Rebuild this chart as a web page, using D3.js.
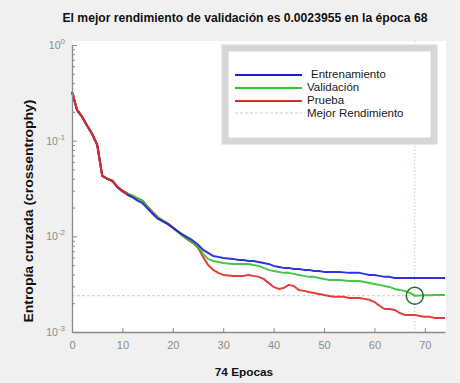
<!DOCTYPE html>
<html>
<head>
<meta charset="utf-8">
<script src="https://cdn.jsdelivr.net/npm/d3@7"></script>
<style>
  html, body { margin: 0; padding: 0; background: #f0f0f0; }
  svg { display: block; font-family: "Liberation Sans", Arial, sans-serif; }
</style>
</head>
<body>
<svg id="chart" width="460" height="383"></svg>
<script>
// Cross-entropy performance per epoch (epochs 0..74)
const epochs = d3.range(0, 75);

const training = [
  0.323, 0.209, 0.177, 0.143, 0.117, 0.0902, 0.0428, 0.0398, 0.0379, 0.0325,
  0.0295, 0.0272, 0.0256, 0.0236, 0.0222, 0.0195, 0.0172, 0.0153, 0.0143, 0.0134,
  0.0123, 0.0113, 0.0104, 0.0097, 0.0090, 0.0082, 0.00721, 0.00671, 0.00624, 0.00610,
  0.00595, 0.00588, 0.00581, 0.00567, 0.00567, 0.00553, 0.00553, 0.00540, 0.00527, 0.00515,
  0.00491, 0.00479, 0.00468, 0.00468, 0.00456, 0.00456, 0.00446, 0.00446, 0.00435, 0.00435,
  0.00425, 0.00425, 0.00425, 0.00425, 0.00420, 0.00415, 0.00415, 0.00415, 0.00405, 0.00395,
  0.00395, 0.00386, 0.00377, 0.00377, 0.00367, 0.00367, 0.00367, 0.00367, 0.00367, 0.00367,
  0.00367, 0.00367, 0.00367, 0.00367, 0.00367
];

const validation = [
  0.323, 0.209, 0.177, 0.143, 0.117, 0.0902, 0.0428, 0.0398, 0.0379, 0.0328,
  0.0300, 0.0280, 0.0266, 0.0250, 0.0236, 0.0203, 0.0177, 0.0157, 0.0146, 0.0136,
  0.0122, 0.0111, 0.0101, 0.0093, 0.0086, 0.0078, 0.00655, 0.00581, 0.00553, 0.00540,
  0.00527, 0.00521, 0.00515, 0.00515, 0.00515, 0.00515, 0.00502, 0.00491, 0.00468, 0.00446,
  0.00435, 0.00425, 0.00415, 0.00415, 0.00405, 0.00395, 0.00386, 0.00377, 0.00377, 0.00367,
  0.00359, 0.00350, 0.00350, 0.00350, 0.00346, 0.00342, 0.00342, 0.00342, 0.00334, 0.00326,
  0.00318, 0.00311, 0.00303, 0.00296, 0.00282, 0.00275, 0.00269, 0.00256, 0.0023955, 0.00241,
  0.00242, 0.00242, 0.00243, 0.00243, 0.00244
];

const test = [
  0.325, 0.210, 0.178, 0.144, 0.118, 0.0905, 0.0430, 0.0400, 0.0381, 0.0330,
  0.0300, 0.0279, 0.0265, 0.0248, 0.0236, 0.0206, 0.0180, 0.0159, 0.0147, 0.0137,
  0.0124, 0.0112, 0.0101, 0.0092, 0.0085, 0.0076, 0.00610, 0.00502, 0.00446, 0.00415,
  0.00395, 0.00390, 0.00386, 0.00386, 0.00386, 0.00395, 0.00386, 0.00377, 0.00359, 0.00326,
  0.00296, 0.00282, 0.00289, 0.00311, 0.00303, 0.00275, 0.00269, 0.00262, 0.00256, 0.00250,
  0.00244, 0.00238, 0.00233, 0.00233, 0.00233, 0.00227, 0.00227, 0.00227, 0.00222, 0.00217,
  0.00206, 0.00188, 0.00174, 0.00174, 0.00170, 0.00158, 0.00151, 0.00151, 0.00151, 0.00147,
  0.00144, 0.00144, 0.00140, 0.00140, 0.00140
];

const seriesNames = ["Entrenamiento", "Validación", "Prueba"];
const seriesColors = ["#1c1cd6", "#2fc42f", "#e02828"];
const bestEpoch = 68;
const bestValue = 0.0023955;
const xTicks = [0, 10, 20, 30, 40, 50, 60, 70];
const yDecades = [-3, -2, -1, 0];

const titleText = "El mejor rendimiento de validación es " + bestValue + " en la época " + bestEpoch;
const xLabel = "74 Epocas";
const yLabel = "Entropía cruzada (crossentrophy)";
const bestLabel = "Mejor Rendimiento";

const svg = d3.select("#chart");
const W = 460, H = 383;
const plot = { left: 72, right: 445, top: 45, bottom: 332 };

svg.append("rect").attr("width", W).attr("height", H).attr("fill", "#f0f0f0");

const x = d3.scaleLinear().domain([0, 74]).range([plot.left, plot.right]);
const y = d3.scaleLog().domain([1e-3, 1]).range([plot.bottom, plot.top]);

// plot area
svg.append("rect")
  .attr("x", plot.left).attr("y", plot.top - 4)
  .attr("width", plot.right - plot.left + 1).attr("height", plot.bottom - plot.top + 4)
  .attr("fill", "#ffffff");

// best-performance guides
svg.append("line")
  .attr("x1", x(bestEpoch)).attr("x2", x(bestEpoch))
  .attr("y1", plot.top - 4).attr("y2", plot.bottom)
  .attr("stroke", "#b4deb4").attr("stroke-width", 1).attr("stroke-dasharray", "1.5,2");
svg.append("line")
  .attr("x1", plot.left).attr("x2", plot.right)
  .attr("y1", y(bestValue)).attr("y2", y(bestValue))
  .attr("stroke", "#cfcfcf").attr("stroke-width", 1).attr("stroke-dasharray", "3,2");

// curves
const line = d3.line().x((d, i) => x(epochs[i])).y(d => y(d));
const allSeries = [training, validation, test];
[2, 1, 0].forEach(k => {
  svg.append("path")
    .datum(allSeries[k])
    .attr("d", line)
    .attr("fill", "none")
    .attr("stroke", seriesColors[k])
    .attr("stroke-width", 2)
    .attr("stroke-linejoin", "round")
    .attr("opacity", 0.9);
});
// test curve kept on top over the shared early segment
svg.append("path")
  .datum(test.slice(0, 12))
  .attr("d", line)
  .attr("fill", "none")
  .attr("stroke", seriesColors[2])
  .attr("stroke-width", 2)
  .attr("stroke-linejoin", "round");

// best validation marker
svg.append("circle")
  .attr("cx", x(bestEpoch)).attr("cy", y(bestValue)).attr("r", 8.5)
  .attr("fill", "none").attr("stroke", "#2a6e2a").attr("stroke-width", 1.6);

// axes
const axisColor = "#8a8a8a";
const xAxis = d3.axisBottom(x).tickValues(xTicks).tickSizeInner(-4).tickSizeOuter(0).tickPadding(9);
const gx = svg.append("g").attr("transform", `translate(0,${plot.bottom})`).call(xAxis);
gx.select(".domain").attr("stroke", axisColor).attr("stroke-width", 1.3);
gx.selectAll(".tick line").attr("stroke", axisColor);
gx.selectAll(".tick text").attr("fill", "#8c8c8c").attr("font-size", 11)
  .attr("font-family", "'Liberation Sans', Arial, sans-serif");

const minorVals = [];
yDecades.slice(0, -1).forEach(p => { for (let m = 1; m < 10; m++) minorVals.push(m * Math.pow(10, p)); });
minorVals.push(1);
const yAxis = d3.axisLeft(y).tickValues(minorVals).tickFormat("").tickSizeOuter(0)
  .tickSizeInner(-3);
const gy = svg.append("g").attr("transform", `translate(${plot.left},0)`).call(yAxis);
gy.select(".domain").attr("stroke", axisColor).attr("stroke-width", 1.3);
gy.selectAll(".tick line").attr("stroke", axisColor)
  .attr("x2", d => (Math.abs(Math.log10(d) - Math.round(Math.log10(d))) < 1e-9 ? 5 : 3));

// decade labels with superscripts
yDecades.forEach(p => {
  const t = svg.append("text")
    .attr("x", plot.left - 7).attr("y", y(Math.pow(10, p)) + 4)
    .attr("text-anchor", "end").attr("fill", "#8c8c8c").attr("font-size", 10.5);
  t.append("tspan").text("10");
  t.append("tspan").attr("dy", -5).attr("font-size", 8).text(String(p));
});

// legend
const lg = { x: 225, y: 48, w: 209, h: 93 };
svg.append("rect")
  .attr("x", lg.x).attr("y", lg.y).attr("width", lg.w).attr("height", lg.h)
  .attr("fill", "#ffffff").attr("stroke", "#d6d6d6").attr("stroke-width", 7);
const legendRows = [75, 88, 101];
seriesNames.forEach((name, i) => {
  svg.append("line")
    .attr("x1", 235).attr("x2", 302).attr("y1", legendRows[i]).attr("y2", legendRows[i])
    .attr("stroke", seriesColors[i]).attr("stroke-width", 2);
  svg.append("text")
    .attr("x", i === 0 ? 311 : 307).attr("y", legendRows[i] + 3)
    .attr("font-size", 11.5).attr("fill", "#1a1a1a").text(name);
});
svg.append("line")
  .attr("x1", 235).attr("x2", 302).attr("y1", 113).attr("y2", 113)
  .attr("stroke", "#cfcfcf").attr("stroke-width", 1).attr("stroke-dasharray", "3,2");
svg.append("text")
  .attr("x", 307).attr("y", 117)
  .attr("font-size", 11.5).attr("fill", "#1a1a1a").text(bestLabel);

// title and axis labels
svg.append("text")
  .attr("x", 245).attr("y", 22).attr("text-anchor", "middle")
  .attr("font-size", 12).attr("font-weight", "bold").attr("fill", "#111")
  .attr("textLength", 365).attr("lengthAdjust", "spacingAndGlyphs")
  .text(titleText);
svg.append("text")
  .attr("x", 244).attr("y", 376).attr("text-anchor", "middle")
  .attr("font-size", 11.8).attr("font-weight", "bold").attr("fill", "#111")
  .text(xLabel);
svg.append("text")
  .attr("transform", "translate(32.5,211) rotate(-90)")
  .attr("text-anchor", "middle")
  .attr("font-size", 12).attr("font-weight", "bold").attr("fill", "#111")
  .attr("textLength", 223).attr("lengthAdjust", "spacingAndGlyphs")
  .text(yLabel);
</script>
</body>
</html>
